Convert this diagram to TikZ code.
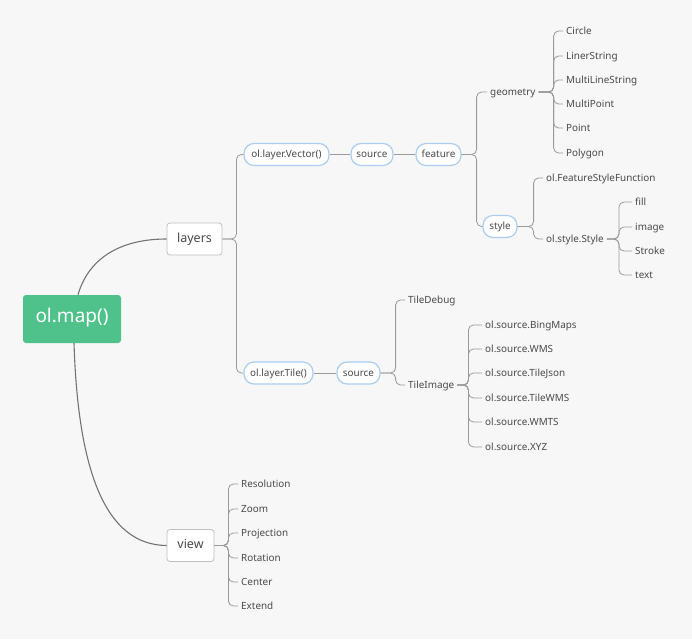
\documentclass[tikz,border=0pt]{standalone}
\usepackage{fontspec}
\setmainfont{Noto Sans}
\definecolor{bgc}{HTML}{F7F7F7}
\definecolor{mapgreen}{HTML}{4EC28A}
\definecolor{pillblue}{HTML}{AACDF2}
\definecolor{linegray}{HTML}{9A9A9A}
\definecolor{txtgray}{HTML}{4A4A4A}

\begin{document}
\begin{tikzpicture}[x=1pt, y=-1pt,
    every node/.style={font=\fontsize{9.9}{12}\selectfont, text=txtgray, text height=1.6ex, text depth=.4ex},
    root/.style={fill=mapgreen, rounded corners=3pt, minimum width=98pt, minimum height=48pt, text=white, font=\fontsize{19}{23}\selectfont},
    topic/.style={draw=black!25, fill=white, rounded corners=3pt, minimum height=32pt, inner xsep=2pt, line width=0.8pt, font=\fontsize{12.5}{15}\selectfont},
    pill/.style={draw=pillblue, fill=white, rounded corners=10pt, minimum height=22pt, inner xsep=2pt, line width=1.2pt},
    leaf/.style={anchor=west, inner sep=3pt},
    branch/.style={draw=linegray, line width=0.8pt, rounded corners=5pt},
    trunk/.style={draw=black!55, line width=1.1pt}]
            \fill[bgc] (0,0) rectangle (692,639);
            % main topics
            \node[root] (map) at (72,319) {ol.map()};
            \node[topic, minimum width=55pt] (layers) at (194.5,239) {layers};
            \node[topic, minimum width=47pt] (view) at (190.5,545.5) {view};
            % vector layer
            \node[pill, minimum width=85pt] (vec) at (286.5,154.5) {ol.layer.Vector()};
            \node[pill, minimum width=42pt] (vsrc) at (372,154.5) {source};
            \node[pill, minimum width=45pt] (feat) at (438.5,154.5) {feature};
            \node[leaf] (geom) at (487,92) {geometry};
            \node[pill, minimum width=34pt] (sty) at (500,226.5) {style};
            \node[leaf] (circ) at (563,31) {Circle};
            \node[leaf] (liner) at (563,56) {LinerString};
            \node[leaf] (mls) at (563,80) {MultiLineString};
            \node[leaf] (mpt) at (563,104) {MultiPoint};
            \node[leaf] (pt) at (563,128) {Point};
            \node[leaf] (poly) at (563,153) {Polygon};
            \node[leaf] (fsf) at (543,178) {ol.FeatureStyleFunction};
            \node[leaf] (ostyle) at (543,239) {ol.style.Style};
            \node[leaf] (fill) at (632,202) {fill};
            \node[leaf] (image) at (632,227) {image};
            \node[leaf] (stroke) at (632,251) {Stroke};
            \node[leaf] (text) at (632,275) {text};
            % tile layer
            \node[pill, minimum width=69pt] (tile) at (278.5,373) {ol.layer.Tile()};
            \node[pill, minimum width=43pt] (tsrc) at (358.5,373) {source};
            \node[leaf] (tdbg) at (405,300) {TileDebug};
            \node[leaf] (timg) at (405,385) {TileImage};
            \node[leaf] (bing) at (482,325) {ol.source.BingMaps};
            \node[leaf] (wms) at (482,349) {ol.source.WMS};
            \node[leaf] (tjson) at (482,373) {ol.source.TileJson};
            \node[leaf] (twms) at (482,398) {ol.source.TileWMS};
            \node[leaf] (wmts) at (482,422) {ol.source.WMTS};
            \node[leaf] (xyz) at (482,447) {ol.source.XYZ};
            % view
            \node[leaf] (res) at (238,484) {Resolution};
            \node[leaf] (zoom) at (238,509) {Zoom};
            \node[leaf] (proj) at (238,533) {Projection};
            \node[leaf] (rot) at (238,558) {Rotation};
            \node[leaf] (cen) at (238,582) {Center};
            \node[leaf] (ext) at (238,606) {Extend};

            \draw[trunk] ([xshift=6pt]map.north) .. controls (88,260) and (118,239) .. (layers.west);
            \draw[trunk] ([xshift=2pt]map.south) .. controls (78,470) and (105,545) .. (view.west);
            \foreach \n in {vec,tile} \draw[branch] (layers.east) -- ++(14,0) |- (\n.west);
            \draw[branch] (vec) -- (vsrc) -- (feat);
            \draw[branch] (tile) -- (tsrc);
            \foreach \n in {geom,sty} \draw[branch] (feat.east) -- ++(15,0) |- (\n.west);
            \foreach \n in {circ,liner,mls,mpt,pt,poly} \draw[branch] (geom.east) -- ++(15,0) |- (\n.west);
            \foreach \n in {fsf,ostyle} \draw[branch] (sty.east) -- ++(16,0) |- (\n.west);
            \foreach \n in {fill,image,stroke,text} \draw[branch] (ostyle.east) -- ++(12,0) |- (\n.west);
            \foreach \n in {tdbg,timg} \draw[branch] (tsrc.east) -- ++(15,0) |- (\n.west);
            \foreach \n in {bing,wms,tjson,twms,wmts,xyz} \draw[branch] (timg.east) -- ++(11,0) |- (\n.west);
            \foreach \n in {res,zoom,proj,rot,cen,ext} \draw[branch] (view.east) -- ++(14,0) |- (\n.west);
        \end{tikzpicture}
\end{document}
